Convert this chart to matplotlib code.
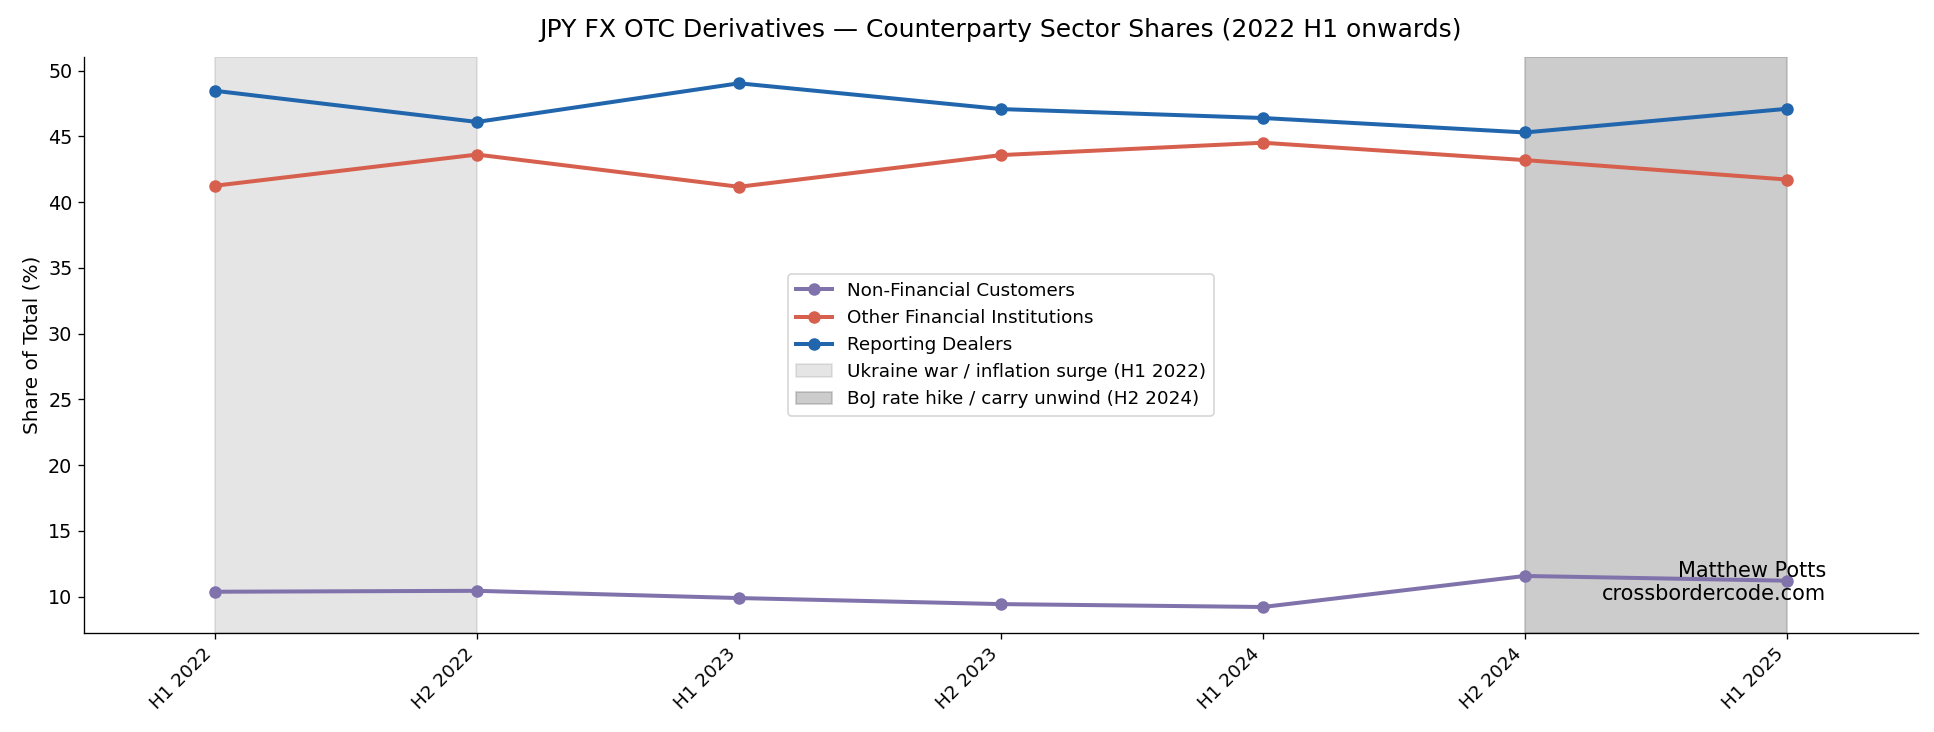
import matplotlib
matplotlib.use("Agg")
import matplotlib.pyplot as plt
import numpy as np

periods = ["H1 2022", "H2 2022", "H1 2023", "H2 2023", "H1 2024", "H2 2024", "H1 2025"]
non_financial = [10.38, 10.45, 9.90, 9.44, 9.22, 11.58, 11.22]
other_financial = [41.25, 43.62, 41.17, 43.58, 44.52, 43.20, 41.72]
reporting_dealers = [48.47, 46.10, 49.04, 47.08, 46.40, 45.30, 47.10]

dpi = 120
fig = plt.figure(figsize=(1934 / dpi, 732 / dpi), dpi=dpi)
ax = fig.add_axes([0.0434, 0.135, 0.9483, 0.787])

x = np.arange(len(periods))
ax.plot(x, non_financial, marker="o", color="#8073ac", lw=2.4, ms=6.5, label="Non-Financial Customers")
ax.plot(x, other_financial, marker="o", color="#d6604d", lw=2.4, ms=6.5, label="Other Financial Institutions")
ax.plot(x, reporting_dealers, marker="o", color="#2166ac", lw=2.4, ms=6.5, label="Reporting Dealers")

ax.axvspan(0, 1, color="grey", alpha=0.2, label="Ukraine war / inflation surge (H1 2022)")
ax.axvspan(5, 6, color="grey", alpha=0.4, label="BoJ rate hike / carry unwind (H2 2024)")

ax.set_xlim(-0.5, 6.5)
ax.set_xticks(x)
ax.set_xticklabels(periods, rotation=45, ha="right", fontsize=11)
ax.tick_params(axis="y", labelsize=11.5)
ax.set_ylabel("Share of Total (%)", fontsize=12)
ax.set_title("JPY FX OTC Derivatives — Counterparty Sector Shares (2022 H1 onwards)", fontsize=15, pad=12)
ax.spines["top"].set_visible(False)
ax.spines["right"].set_visible(False)

ax.legend(loc="center", fontsize=11)
ax.text(0.95, 0.05, "Matthew Potts\ncrossbordercode.com", transform=ax.transAxes,
        ha="right", va="bottom", fontsize=12.5)

fig.savefig("out.png", dpi=dpi)
